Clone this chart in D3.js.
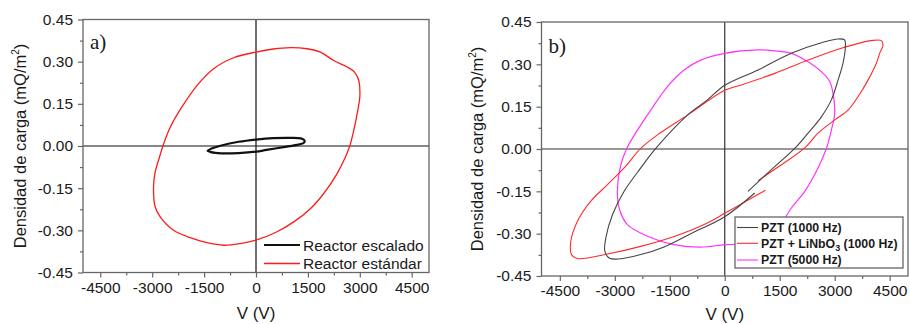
<!DOCTYPE html>
<html>
<head>
<meta charset="utf-8">
<script src="https://cdn.jsdelivr.net/npm/d3@7"></script>
<style>
html,body{margin:0;padding:0;background:#fff;}
svg{display:block;}
text{font-family:"Liberation Sans",Arial,sans-serif;}
</style>
</head>
<body>
<svg id="chart" width="910" height="324"></svg>
<script>
// ---------- DATA ----------
const xTicks = [-4500, -3000, -1500, 0, 1500, 3000, 4500];
const xTickLabels = ["-4500", "-3000", "-1500", "0", "1500", "3000", "4500"];
const xMinorTicks = [-3750, -2250, -750, 750, 2250, 3750];
const yTicks = [-0.45, -0.30, -0.15, 0, 0.15, 0.30, 0.45];
const yTickLabels = ["-0.45", "-0.30", "-0.15", "0.00", "0.15", "0.30", "0.45"];
const yMinorTicks = [-0.375, -0.225, -0.075, 0.075, 0.225, 0.375];
const xDomain = [-5000, 5000];
const yDomain = [-0.45, 0.45];

// Panel a) — Reactor estándar (closed loop) [V, Q]
const reactorEstandar = [
  [0,0.334],[-646,0.314],[-1225,0.275],[-1707,0.215],[-2141,0.139],[-2479,0.067],
  [-2691,0],[-2788,-0.039],[-2913,-0.092],[-2961,-0.146],[-2913,-0.217],[-2768,-0.252],
  [-2383,-0.300],[-1900,-0.326],[-1418,-0.344],[-936,-0.353],[-453,-0.347],[0,-0.335],
  [608,-0.305],[1090,-0.270],[1572,-0.223],[1958,-0.169],[2344,-0.098],[2585,-0.039],
  [2710,0],[2826,0.056],[2942,0.127],[3000,0.174],[2971,0.233],[2846,0.263],
  [2633,0.281],[2248,0.304],[1862,0.334],[1476,0.346],[994,0.350],[500,0.345]
];
// Panel a) — Reactor escalado (closed loop)
const reactorEscalado = [
  [-1400,-0.017],[-1300,-0.010],[-1000,0.002],[-500,0.015],[0,0.023],[500,0.028],
  [1000,0.029],[1300,0.027],[1400,0.020],[1390,0.012],[1250,0.006],[800,-0.004],
  [300,-0.014],[0,-0.020],[-500,-0.025],[-1000,-0.026],[-1300,-0.022]
];
// Panel b) — PZT (1000 Hz) (open path)
const pzt1000 = [
  [635,-0.150],[1273,-0.073],[1909,0.002],[2273,0.056],[2636,0.114],[2909,0.174],
  [3091,0.244],[3227,0.304],[3291,0.362],[3273,0.386],[3091,0.390],[2727,0.380],
  [1818,0.339],[909,0.280],[0,0.226],[-473,0.174],[-1018,0.120],[-1882,0.002],
  [-2291,-0.067],[-2745,-0.150],[-3064,-0.233],[-3245,-0.315],[-3273,-0.362],
  [-3155,-0.386],[-2927,-0.390],[-2291,-0.374],[-1655,-0.347],[-927,-0.300],
  [0,-0.240],[818,-0.156]
];
// Panel b) — PZT + LiNbO3 (1000 Hz) (open path)
const pztLiNbO3 = [
  [909,-0.112],[1545,-0.056],[2182,0.004],[2545,0.056],[3000,0.103],[3364,0.138],
  [3636,0.185],[3909,0.244],[4136,0.304],[4227,0.339],[4318,0.368],[4273,0.384],
  [4000,0.384],[3182,0.357],[2273,0.315],[1364,0.268],[455,0.227],[0,0.208],
  [-1018,0.120],[-1836,0.050],[-2291,0.002],[-2745,-0.067],[-3200,-0.126],
  [-3655,-0.185],[-4018,-0.256],[-4200,-0.327],[-4182,-0.374],[-4018,-0.388],
  [-3200,-0.372],[-2291,-0.345],[-1382,-0.310],[-473,-0.262],[0,-0.228],
  [638,-0.181],[1110,-0.146]
];
// Panel b) — PZT (5000 Hz) (closed loop)
const pzt5000 = [
  [0,0.339],[909,0.351],[1364,0.348],[1818,0.339],[2273,0.309],[2636,0.274],
  [2864,0.239],[2955,0.197],[3000,0.126],[2909,0.067],[2773,0.002],[2545,-0.067],
  [2182,-0.150],[1818,-0.209],[1545,-0.262],[1200,-0.300],[800,-0.325],[400,-0.337],
  [0,-0.339],[-655,-0.348],[-1382,-0.339],[-2109,-0.309],[-2655,-0.268],
  [-2882,-0.209],[-2927,-0.138],[-2836,-0.056],[-2673,0.002],[-2382,0.067],
  [-2018,0.138],[-1564,0.221],[-1109,0.280],[-655,0.315]
];

const legendA = ["Reactor escalado", "Reactor estándar"];
const yTitle = "Densidad de carga (mQ/m";
const xTitle = "V (V)";

// ---------- DRAW ----------
const svg = d3.select("#chart");

function panel(cfg) {
  const g = svg.append("g");
  const x = d3.scaleLinear().domain(xDomain).range([cfg.left, cfg.right]);
  const y = d3.scaleLinear().domain(yDomain).range([cfg.bottom, cfg.top]);

  // zero lines
  g.append("line").attr("x1", cfg.left).attr("x2", cfg.right)
    .attr("y1", y(0)).attr("y2", y(0)).attr("stroke", cfg.zeroColor).attr("stroke-width", 1.2);
  g.append("line").attr("x1", x(0)).attr("x2", x(0))
    .attr("y1", cfg.top).attr("y2", cfg.bottom).attr("stroke", cfg.zeroColor).attr("stroke-width", 1.2);

  const clipId = "clip" + cfg.id;
  svg.append("clipPath").attr("id", clipId).append("rect")
    .attr("x", cfg.left).attr("y", cfg.top)
    .attr("width", cfg.right - cfg.left).attr("height", cfg.bottom - cfg.top);

  const plot = g.append("g").attr("clip-path", `url(#${clipId})`);
  cfg.series.forEach(s => {
    const line = d3.line().x(d => x(d[0])).y(d => y(d[1]))
      .curve(s.closed ? d3.curveCatmullRomClosed.alpha(0.5) : d3.curveCatmullRom.alpha(0.5));
    plot.append("path").datum(s.data).attr("d", line)
      .attr("fill", "none").attr("stroke", s.color).attr("stroke-width", s.width)
      .attr("stroke-linejoin", "round");
  });

  // frame
  g.append("rect").attr("x", cfg.left).attr("y", cfg.top)
    .attr("width", cfg.right - cfg.left).attr("height", cfg.bottom - cfg.top)
    .attr("fill", "none").attr("stroke", "#666").attr("stroke-width", 1.3);

  // axes
  const xAxis = d3.axisBottom(x).tickValues(xTicks)
    .tickFormat((d, i) => xTickLabels[i]).tickSize(5).tickPadding(4);
  const xa = g.append("g").attr("transform", `translate(0,${cfg.bottom})`).call(xAxis);
  const xm = g.append("g").attr("transform", `translate(0,${cfg.bottom})`)
    .call(d3.axisBottom(x).tickValues(xMinorTicks).tickFormat("").tickSize(3));
  const yAxis = d3.axisLeft(y).tickValues(yTicks)
    .tickFormat((d, i) => yTickLabels[i]).tickSize(5).tickPadding(5);
  const ya = g.append("g").attr("transform", `translate(${cfg.left},0)`).call(yAxis);
  const ym = g.append("g").attr("transform", `translate(${cfg.left},0)`)
    .call(d3.axisLeft(y).tickValues(yMinorTicks).tickFormat("").tickSize(3));
  [xa, xm, ya, ym].forEach(a => {
    a.select(".domain").remove();
    a.selectAll("line").attr("stroke", "#666").attr("stroke-width", 1.2);
    a.selectAll("text").attr("fill", "#1a1a1a").style("font-size", "15.5px")
      .style("font-family", "'Liberation Sans', Arial, sans-serif");
  });

  // axis titles
  g.append("text").attr("x", (cfg.left + cfg.right) / 2).attr("y", cfg.xTitleY)
    .attr("text-anchor", "middle").style("font-size", "17px").attr("fill", "#1a1a1a").text(xTitle);
  const yt = g.append("text")
    .attr("transform", `translate(${cfg.yTitleX},${(cfg.top + cfg.bottom) / 2}) rotate(-90)`)
    .attr("text-anchor", "middle").style("font-size", "16.5px").attr("fill", "#1a1a1a");
  yt.append("tspan").text(yTitle);
  yt.append("tspan").attr("dy", -7).style("font-size", "10px").text("2");
  yt.append("tspan").attr("dy", 7).text(")");

  // panel letter
  g.append("text").attr("x", cfg.left + 7).attr("y", cfg.top + cfg.letterDy)
    .style("font-family", "'Liberation Serif','Times New Roman',serif")
    .style("font-size", "21px").attr("fill", "#1a1a1a").text(cfg.letter);

  return {g, x, y};
}

// Panel a
const pa = panel({
  id: "a", left: 83, right: 429, top: 19.5, bottom: 272.5, zeroColor: "#111",
  yTitleX: 25.5, xTitleY: 319, letter: "a)", letterDy: 29,
  series: [
    {data: reactorEstandar, color: "#ff1a1a", width: 1.3, closed: true},
    {data: reactorEscalado, color: "#111", width: 2.2, closed: true}
  ]
});
// legend a
const legA = pa.g.append("g");
[{c: "#111", w: 2.2, yy: 245}, {c: "#ff1a1a", w: 1.6, yy: 263.5}].forEach((s, i) => {
  legA.append("line").attr("x1", 264).attr("x2", 300).attr("y1", s.yy).attr("y2", s.yy)
    .attr("stroke", s.c).attr("stroke-width", s.w);
  legA.append("text").attr("x", 303).attr("y", s.yy + 5.5).style("font-size", "15.5px")
    .attr("fill", "#1a1a1a").text(legendA[i]);
});

// Panel b
const pb = panel({
  id: "b", left: 541.5, right: 908, top: 22, bottom: 276, zeroColor: "#333",
  yTitleX: 482.5, xTitleY: 319.5, letter: "b)", letterDy: 31,
  series: [
    {data: pzt5000, color: "#ff33ff", width: 1.2, closed: true},
    {data: pztLiNbO3, color: "#ff2a2a", width: 1.1, closed: false},
    {data: pzt1000, color: "#444", width: 1.1, closed: false}
  ]
});
// legend b
const legB = pb.g.append("g");
legB.append("rect").attr("x", 735).attr("y", 217).attr("width", 168).attr("height", 51)
  .attr("fill", "#fff").attr("stroke", "#666").attr("stroke-width", 1.3);
const legBItems = [
  {c: "#444", yy: 227.5},
  {c: "#ff2a2a", yy: 243.3},
  {c: "#ff33ff", yy: 260}
];
legBItems.forEach((s, i) => {
  legB.append("line").attr("x1", 737).attr("x2", 758).attr("y1", s.yy).attr("y2", s.yy)
    .attr("stroke", s.c).attr("stroke-width", 1.1);
  const t = legB.append("text").attr("x", 761).attr("y", s.yy + 4.3)
    .style("font-size", "12.3px").style("font-weight", "bold").attr("fill", "#1a1a1a");
  if (i === 0) t.text("PZT (1000 Hz)");
  if (i === 1) {
    t.append("tspan").text("PZT + LiNbO");
    t.append("tspan").attr("dy", 3.5).style("font-size", "9px").text("3");
    t.append("tspan").attr("dy", -3.5).text(" (1000 Hz)");
  }
  if (i === 2) t.text("PZT (5000 Hz)");
});
</script>
</body>
</html>
